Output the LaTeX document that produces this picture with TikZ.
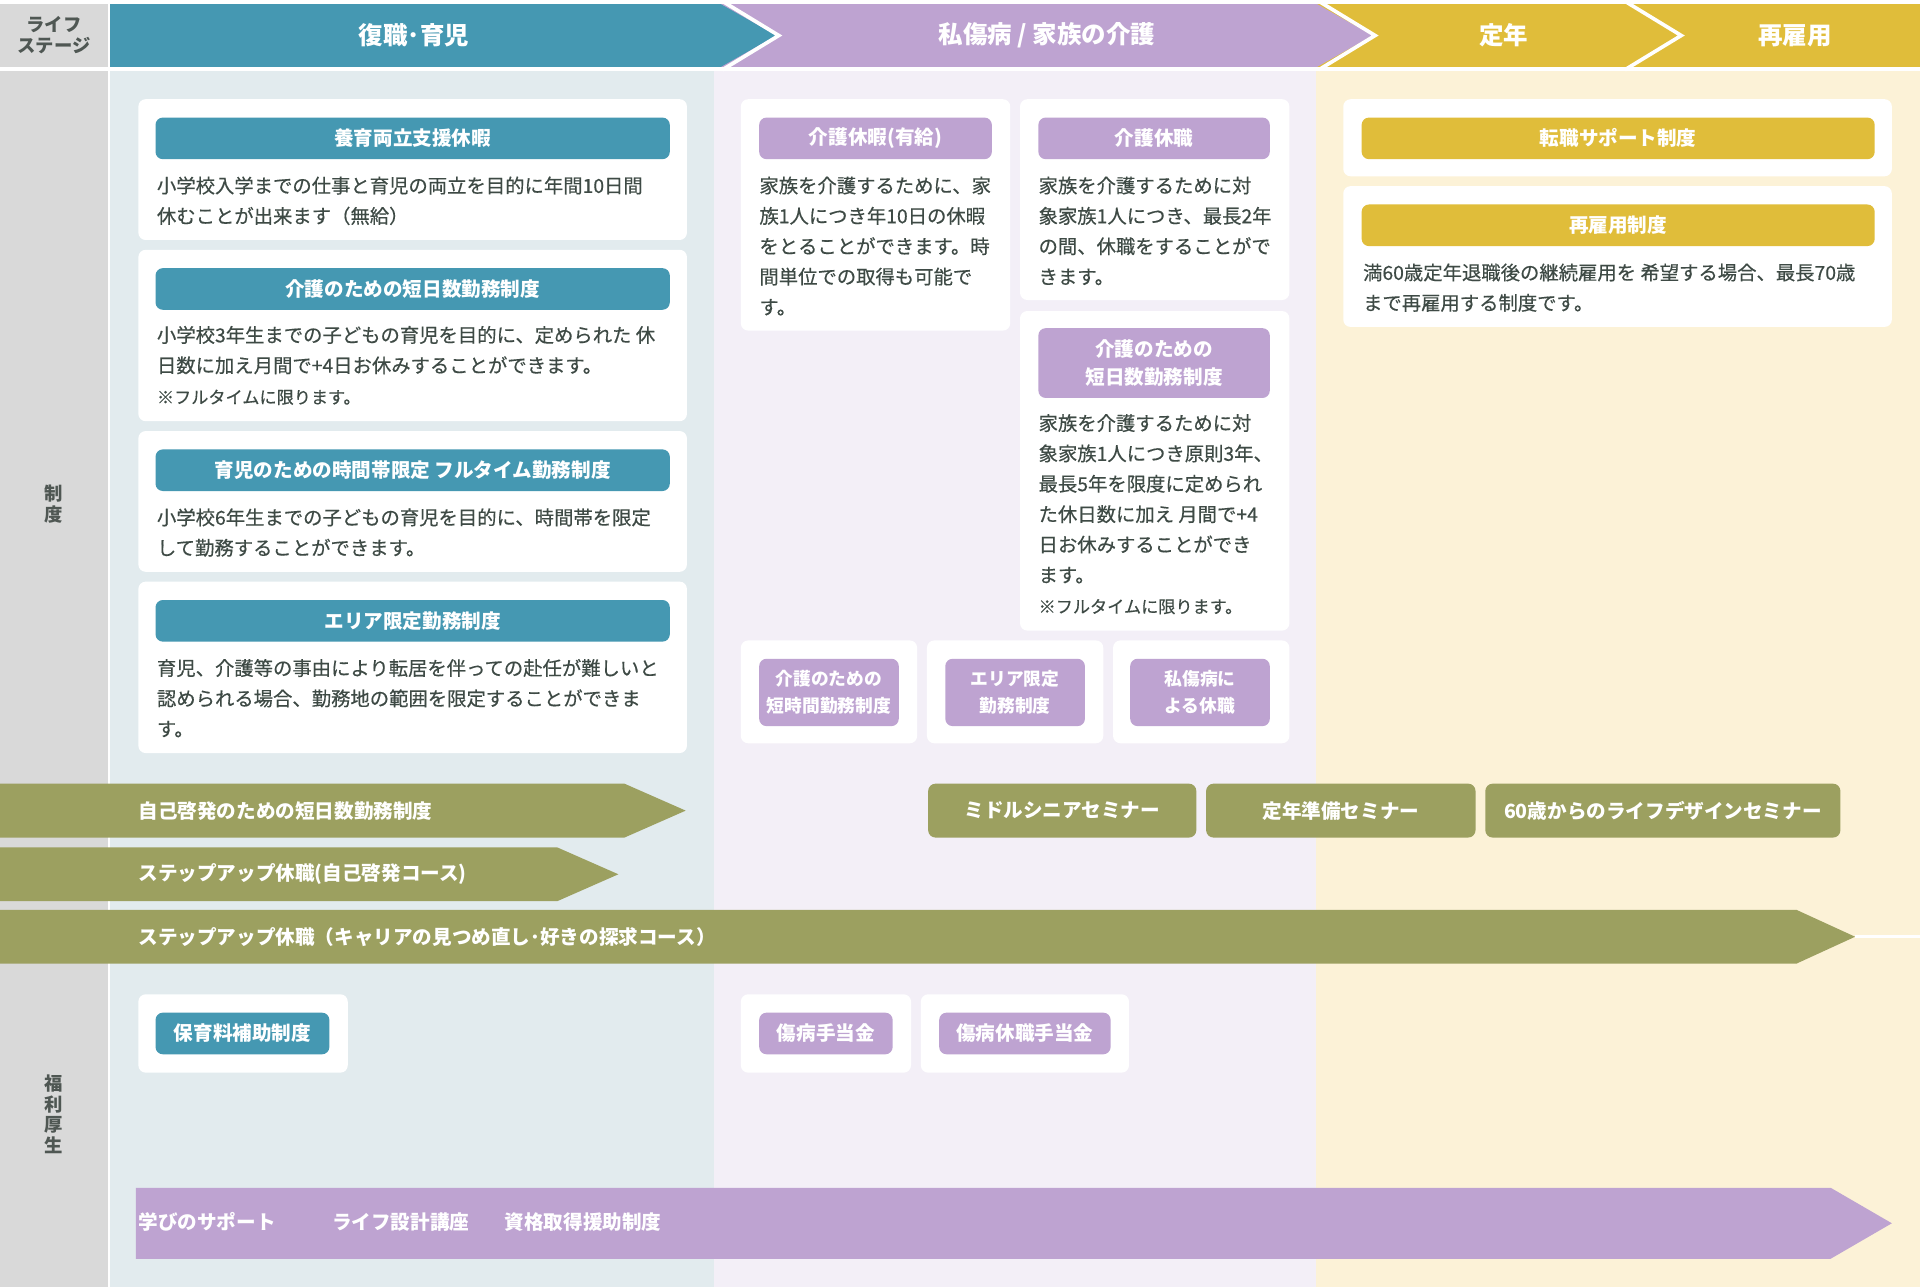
\documentclass[tikz,border=0pt]{standalone}
\usepackage{fontspec}
\setmainfont{Noto Sans CJK JP}
\newfontfamily\bodyfam{Noto Sans CJK JP}[FakeBold=0.4]
\definecolor{cTeal}{HTML}{4598B2}
\definecolor{cPurp}{HTML}{BEA3D1}
\definecolor{cGold}{HTML}{E0BD3A}
\definecolor{cOlive}{HTML}{9CA060}
\definecolor{cGray}{HTML}{D9D9D9}
\definecolor{cTealBg}{HTML}{E2EBEE}
\definecolor{cPurpBg}{HTML}{F3EFF7}
\definecolor{cGoldBg}{HTML}{FCF2D7}
\definecolor{cText}{HTML}{3E4A45}
\definecolor{cLabel}{HTML}{4F5753}
\newcommand\bodyfnt{\bodyfam\fontsize{15.8}{24.8}\selectfont}
\newcommand\notefnt{\bodyfam\fontsize{14}{20}\selectfont}
\newcommand\hdfnt{\bfseries\fontsize{16}{23}\selectfont}
\newcommand\smhdfnt{\bfseries\fontsize{14.5}{22.5}\selectfont}
\newcommand\topfnt{\bfseries\fontsize{20}{24}\selectfont}
\newcommand\lblfnt{\bfseries\fontsize{15}{17}\selectfont}
\tikzset{
  wbox/.style={fill=white, rounded corners=6pt, draw=none, inner sep=0},
  hbar/.style={rounded corners=6pt, text=white, font=\hdfnt, align=center, inner sep=0},
  tealbar/.style={hbar, fill=cTeal},
  purpbar/.style={hbar, fill=cPurp},
  goldbar/.style={hbar, fill=cGold},
  bodytxt/.style={anchor=north west, inner sep=0, align=left, text=cText, font=\bodyfnt},
  notetxt/.style={anchor=west, inner sep=0, text=cText, font=\notefnt},
  toptxt/.style={text=white, font=\topfnt, inner sep=0},
  lbltxt/.style={text=cLabel, font=\lblfnt, align=center, inner sep=0},
  bartxt/.style={anchor=west, text=white, font=\hdfnt, inner sep=0},
  seminar/.style={fill=cOlive, rounded corners=6pt, text=white, font=\hdfnt, inner sep=0, minimum height=44},
  chev/.style={draw=white, line width=3pt},
}
\begin{document}
\begin{tikzpicture}[x=1pt,y=-1pt]
\useasboundingbox (0,0) rectangle (1568,1051);
\fill[white] (0,0) rectangle (1568,1051);
% ---------- body backgrounds
\fill[cGray] (0,58) rectangle (88,1051);
\fill[cTealBg] (90,58) rectangle (583,1051);
\fill[cPurpBg] (583,58) rectangle (1075,1051);
\fill[cGoldBg] (1075,58) rectangle (1568,1051);
% ---------- header row
\fill[cGray] (0,3) rectangle (88,55);
\fill[cGold] (1320,3) rectangle (1568,55);
\fill[cGold] (1070,3) -- (1325,3) -- (1371,29) -- (1325,55) -- (1070,55) -- cycle;
\fill[cPurp] (585,3) -- (1075,3) -- (1121,29) -- (1075,55) -- (585,55) -- cycle;
\fill[cTeal] (90,3) -- (588,3) -- (634,29) -- (588,55) -- (90,55) -- cycle;
\draw[chev] (590,1) -- (636,29) -- (590,57);
\draw[chev] (1077,1) -- (1123,29) -- (1077,57);
\draw[chev] (1327,1) -- (1373,29) -- (1327,57);
\fill[white] (0,0) rectangle (1568,3);
\fill[white] (0,55) rectangle (1568,58);
\node[lbltxt] (lbl0) at (44,29) {ライフ\\ステージ};
\node[toptxt] (t1) at (338,29) {復職･育児};
\node[toptxt] (t2) at (855,29) {私傷病 / 家族の介護};
\node[toptxt] (t3) at (1228,29) {定年};
\node[toptxt] (t4) at (1466,29) {再雇用};
% ---------- side labels
\node[lbltxt] (lbl1) at (44,411.5) {制\\度};
\node[lbltxt] (lbl2) at (44,910) {福\\利\\厚\\生};
% ---------- teal column boxes
\node[wbox, minimum width=448, minimum height=115] (b1) at (337,138.5) {};
\node[tealbar, minimum width=420, minimum height=34] (h1) at (337,113) {養育両立支援休暇};
\node[bodytxt] (x1) at (128,144) {小学校入学までの仕事と育児の両立を目的に年間10日間\\休むことが出来ます（無給）};

\node[wbox, minimum width=448, minimum height=140] (b2) at (337,274) {};
\node[tealbar, minimum width=420, minimum height=34] (h2) at (337,236) {介護のための短日数勤務制度};
\node[bodytxt] (x2) at (128,266) {小学校3年生までの子どもの育児を目的に、定められた 休\\日数に加え月間で+4日お休みすることができます。};
\node[notetxt] (n2) at (128,324.5) {※フルタイムに限ります。};

\node[wbox, minimum width=448, minimum height=115] (b3) at (337,409.5) {};
\node[tealbar, minimum width=420, minimum height=34] (h3) at (337,384) {育児のための時間帯限定 フルタイム勤務制度};
\node[bodytxt] (x3) at (128,415) {小学校6年生までの子どもの育児を目的に、時間帯を限定\\して勤務することができます。};

\node[wbox, minimum width=448, minimum height=140] (b4) at (337,545) {};
\node[tealbar, minimum width=420, minimum height=34] (h4) at (337,507) {エリア限定勤務制度};
\node[bodytxt] (x4) at (128,538) {育児、介護等の事由により転居を伴っての赴任が難しいと\\認められる場合、勤務地の範囲を限定することができま\\す。};
% ---------- purple column boxes
\node[wbox, minimum width=220, minimum height=189] (b5) at (715,175.5) {};
\node[purpbar, minimum width=190, minimum height=34] (h5) at (715,113) {介護休暇(有給)};
\node[bodytxt] (x5) at (620,144) {家族を介護するために、家\\族1人につき年10日の休暇\\をとることができます。時\\間単位での取得も可能で\\す。};

\node[wbox, minimum width=220, minimum height=164] (b6) at (943,163) {};
\node[purpbar, minimum width=189, minimum height=34] (h6) at (942.5,113) {介護休職};
\node[bodytxt] (x6) at (848,144) {家族を介護するために対\\象家族1人につき、最長2年\\の間、休職をすることがで\\きます。};

\node[wbox, minimum width=220, minimum height=261] (b7) at (943,384.5) {};
\node[purpbar, minimum width=189, minimum height=57] (h7) at (942.5,296.5) {介護のための\\短日数勤務制度};
\node[bodytxt] (x7) at (848,338) {家族を介護するために対\\象家族1人につき原則3年、\\最長5年を限度に定められ\\た休日数に加え 月間で+4\\日お休みすることができ\\ます。};
\node[notetxt] (n7) at (848,495.5) {※フルタイムに限ります。};

\node[wbox, minimum width=144, minimum height=84] (b8) at (677,565) {};
\node[purpbar, font=\smhdfnt, minimum width=114, minimum height=55] (h8) at (677,565.5) {介護のための\\短時間勤務制度};
\node[wbox, minimum width=144, minimum height=84] (b9) at (829,565) {};
\node[purpbar, font=\smhdfnt, minimum width=114, minimum height=55] (h9) at (829,565.5) {エリア限定\\勤務制度};
\node[wbox, minimum width=144, minimum height=84] (b10) at (981,565) {};
\node[purpbar, font=\smhdfnt, minimum width=114, minimum height=55] (h10) at (980,565.5) {私傷病に\\よる休職};
% ---------- gold column boxes
\node[wbox, minimum width=448, minimum height=63] (b11) at (1321,112.5) {};
\node[goldbar, minimum width=419, minimum height=34] (h11) at (1321.5,113) {転職サポート制度};
\node[wbox, minimum width=448, minimum height=115] (b12) at (1321,209.5) {};
\node[goldbar, minimum width=419, minimum height=34] (h12) at (1321.5,184) {再雇用制度};
\node[bodytxt] (x12) at (1113,215) {満60歳定年退職後の継続雇用を 希望する場合、最長70歳\\まで再雇用する制度です。};
% ---------- olive bars
\fill[cOlive] (0,640) -- (510,640) -- (560,662) -- (510,684) -- (0,684) -- cycle;
\node[bartxt] (o1) at (113,662) {自己啓発のための短日数勤務制度};
\fill[cOlive] (0,692) -- (455,692) -- (505,714) -- (455,736) -- (0,736) -- cycle;
\node[bartxt] (o2) at (113,714) {ステップアップ休職(自己啓発コース)};
\fill[cOlive] (0,743) -- (1467,743) -- (1515,765) -- (1467,787) -- (0,787) -- cycle;
\node[bartxt] (o3) at (113,765) {ステップアップ休職（キャリアの見つめ直し･好きの探求コース）};
\coordinate (tip3) at (1515,765);
\coordinate (edge3) at (1568,765);
\draw[white, line width=2.5pt] (tip3) -- (edge3);
\node[seminar, minimum width=219] (s1) at (867.5,662) {ミドルシニアセミナー};
\node[seminar, minimum width=220] (s2) at (1095,662) {定年準備セミナー};
\node[seminar, minimum width=290] (s3) at (1358,662) {60歳からのライフデザインセミナー};
% ---------- welfare
\node[wbox, minimum width=171, minimum height=64] (w1) at (198.5,844) {};
\node[tealbar, minimum width=142, minimum height=34] (wh1) at (198,844) {保育料補助制度};
\node[wbox, minimum width=139, minimum height=64] (w2) at (674.5,844) {};
\node[purpbar, minimum width=109, minimum height=34] (wh2) at (674.5,844) {傷病手当金};
\node[wbox, minimum width=170, minimum height=64] (w3) at (837,844) {};
\node[purpbar, minimum width=140, minimum height=34] (wh3) at (837,844) {傷病休職手当金};
% ---------- bottom purple bar
\fill[cPurp] (111,970) -- (1495,970) -- (1545,999) -- (1495,1028) -- (111,1028) -- cycle;
\node[bartxt] (p1) at (113,998) {学びのサポート};
\node[bartxt] (p2) at (271,998) {ライフ設計講座};
\node[bartxt] (p3) at (412,998) {資格取得援助制度};
\end{tikzpicture}
\end{document}
